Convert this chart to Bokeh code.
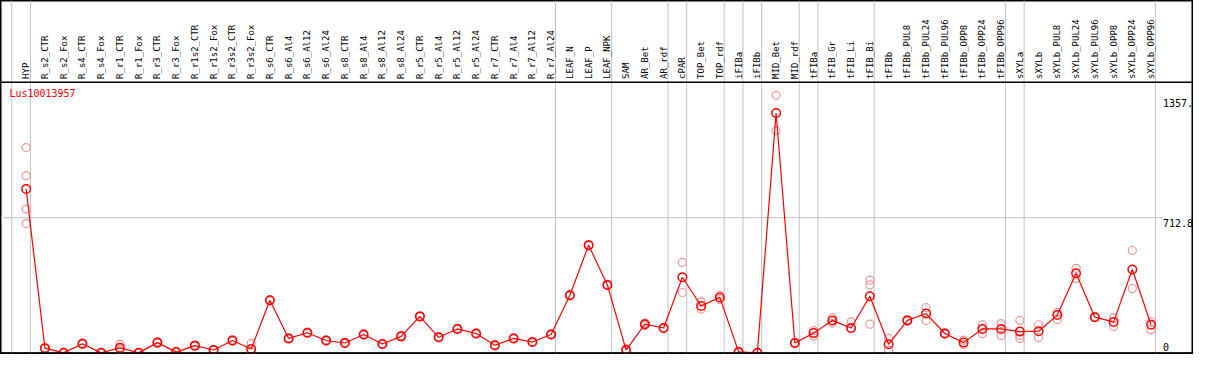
import math
from bokeh.plotting import figure
from bokeh.models import Range1d, Span
from bokeh.core.properties import value
from bokeh.embed import file_html
from bokeh.resources import INLINE

# ---------------- data ----------------
gene = "Lus10013957"

samples = [
    "HYP",
    "R_s2_CTR", "R_s2_Fox", "R_s4_CTR", "R_s4_Fox", "R_r1_CTR", "R_r1_Fox",
    "R_r3_CTR", "R_r3_Fox", "R_r1s2_CTR", "R_r1s2_Fox", "R_r3s2_CTR", "R_r3s2_Fox",
    "R_s6_CTR", "R_s6_Al4", "R_s6_Al12", "R_s6_Al24",
    "R_s8_CTR", "R_s8_Al4", "R_s8_Al12", "R_s8_Al24",
    "R_r5_CTR", "R_r5_Al4", "R_r5_Al12", "R_r5_Al24",
    "R_r7_CTR", "R_r7_Al4", "R_r7_Al12", "R_r7_Al24",
    "LEAF_N", "LEAF_P", "LEAF_NPK",
    "SAM", "AR_Bet", "AR_rdf",
    "cPAR",
    "TOP_Bet", "TOP_rdf",
    "iFIBa",
    "iFIBb",
    "MID_Bet", "MID_rdf",
    "tFIBa",
    "tFIB_Gr", "tFIB_Li", "tFIB_Bi",
    "tFIBb", "tFIBb_PUL8", "tFIBb_PUL24", "tFIBb_PUL96", "tFIBb_OPP8", "tFIBb_OPP24", "tFIBb_OPP96",
    "sXYLa",
    "sXYLb", "sXYLb_PUL8", "sXYLb_PUL24", "sXYLb_PUL96", "sXYLb_OPP8", "sXYLb_OPP24", "sXYLb_OPP96",
]

# number of samples in each block separated by a vertical grey line
group_sizes = [1, 28, 3, 3, 1, 2, 1, 1, 2, 1, 3, 7, 1, 7]

means = [
    864,
    26, 1, 49, 1, 28, 1, 55, 5, 39, 16, 66, 21,
    278, 77, 107, 66,
    53, 98, 48, 88,
    193, 83, 127, 103,
    41, 77, 58, 98,
    304, 568, 359,
    16, 152, 132,
    399,
    248, 293,
    6,
    1,
    1264, 53,
    105,
    172, 132, 299,
    46, 172, 208, 103, 55, 127, 127,
    113,
    115, 200, 420, 189, 164, 440, 149,
]

replicates = [
    [1082, 934, 758, 682],
    [24, 28], [0, 2], [46, 52], [0, 2], [46, 18, 21], [0, 2],
    [52, 58], [3, 8], [36, 42], [14, 18], [62, 70], [51, 6, 6],
    [275, 281], [74, 80], [104, 110], [63, 69],
    [50, 56], [95, 101], [45, 51], [85, 91],
    [190, 196], [80, 86], [124, 130], [100, 106],
    [38, 44], [74, 80], [55, 61], [95, 101],
    [301, 307], [565, 571], [356, 362],
    [22, 10], [145, 158], [129, 135],
    [477, 319],
    [270, 231], [282, 304],
    [3, 9],
    [0, 2],
    [1357, 1171], [49, 57],
    [118, 90],
    [186, 158], [164, 131], [384, 359, 152],
    [77, 16], [168, 176], [240, 172], [100, 106], [68, 45], [149, 102], [155, 93],
    [172, 93, 77],
    [149, 82], [214, 177], [446, 392], [186, 193], [185, 140], [540, 340], [164, 123],
]

y_ticks = [1357, 712.8, 0]
y_tick_labels = ["1357.", "712.8", "0"]

# ---------------- layout ----------------
W, H = 1193, 354
REF_W, REF_H = 1209, 370
fx, fy = W / REF_W, H / REF_H
STEP = 19.0                # reference px per sample
X_FIRST = 26.0             # reference px of first sample
K = 0.19851                # reference px per unit
Y_BASE = 368.5             # reference px of value 0
Y_MAX = 2 * y_ticks[1]     # top of plotting area

X0 = -X_FIRST / STEP
X1 = (REF_W - X_FIRST) / STEP
Y0 = -(REF_H - Y_BASE) / K
Y1 = Y_BASE / K

n = len(samples)
xs = list(range(n))
LABEL_V = (Y_BASE - 82) / K
TITLE_X = (9 - X_FIRST) / STEP
TITLE_V = (Y_BASE - 96.7) / K
TICK_X = (1178 - X_FIRST) / STEP
GRID_END = (1177 - X_FIRST) / STEP
SEP_OFF = 0.23
TICK_DY = [7.5 * fy, 5.5 * fy, -6.2 * fy]

FONT = value("DejaVu Sans Mono")
GREY = "#C0C0C0"
PINK = "#F09696"

p = figure(width=W, height=H, x_range=Range1d(X0, X1), y_range=Range1d(Y0, Y1),
           x_axis_type=None, y_axis_type=None, output_backend="svg",
           toolbar_location=None, tools="", min_border=0)
p.outline_line_color = "black"
p.outline_line_width = 2
p.background_fill_color = "white"
p.border_fill_color = "white"

# vertical group separators
bounds = [-1]
acc = -1
for g in group_sizes:
    acc += g
    bounds.append(acc)
for b in bounds:
    p.add_layout(Span(location=b + SEP_OFF, dimension="height", line_color=GREY,
                      line_width=1, level="underlay"))

# horizontal grid line at mid value
p.segment(x0=[X0], y0=[y_ticks[1]], x1=[GRID_END], y1=[y_ticks[1]],
          line_color=GREY, line_width=1)

# header separator and bottom line
p.add_layout(Span(location=Y_MAX, dimension="width", line_color="black", line_width=1.5))
p.add_layout(Span(location=0, dimension="width", line_color="black", line_width=1.5))

# replicates
rx, ry = [], []
for i, reps in enumerate(replicates):
    for v in reps:
        rx.append(i)
        ry.append(v)
p.scatter(rx, ry, marker="circle", size=8, fill_color=None, line_color=PINK, line_width=1.2)

# mean line and points
p.line(xs, means, line_color="red", line_width=1.2)
p.scatter(xs, means, marker="circle", size=8.5, fill_color=None, line_color="red", line_width=1.5)

# sample labels (rotated)
p.text(x=xs, y=[LABEL_V] * n, text=samples, angle=math.pi / 2,
       text_align="left", text_baseline="middle", text_font=FONT,
       text_font_size="9px", text_color="black")

# gene name
p.text(x=[TITLE_X], y=[TITLE_V], text=[gene], text_align="left", text_baseline="middle",
       text_font=FONT, text_font_size="10px", text_color="red")

# value labels on the right
p.text(x=[TICK_X] * len(y_ticks), y=y_ticks, text=y_tick_labels, y_offset=TICK_DY,
       text_align="left", text_baseline="middle", text_font=FONT,
       text_font_size="10px", text_color="black")

open("out.html", "w").write(file_html(p, INLINE))
